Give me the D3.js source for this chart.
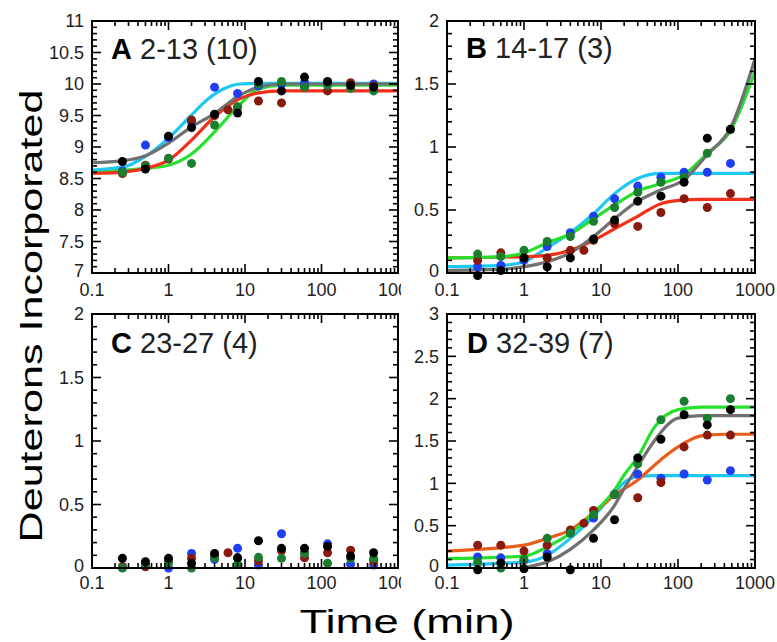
<!DOCTYPE html>
<html>
<head>
<meta charset="utf-8">
<script src="https://cdn.jsdelivr.net/npm/d3@7"></script>
<style>
  body { margin: 0; background: #fff; }
  text { font-family: "Liberation Sans", Arial, sans-serif; }
</style>
</head>
<body>
<script>
const width = 777;
const height = 642;

// sampling times (min)
const times = [0.25, 0.5, 1, 2, 4, 8, 15, 30, 60, 120, 240, 480];
const timesRed = [0.25, 0.5, 1, 2, 4, 6, 8, 15, 30, 60, 120, 240, 480];
const xTickLabels = [0.1, 1, 10, 100, 1000];

// panel A 2-13 (10)
const aBlack = [8.77, 8.65, 9.17, 9.31, 9.52, 9.54, 10.04, 9.89, 10.11, 10.04, 9.98, 9.95];
const aBlue = [8.62, 9.03, 9.15, 9.40, 9.95, 9.85, 9.97, 10.0, 10.02, 10.02, 10.0, 10.0];
const aRed = [8.58, 8.71, 8.81, 9.43, 9.50, 9.59, 9.63, 9.73, 9.70, 9.95, 9.89, 10.02, 9.97];
const aGreen = [8.60, 8.70, 8.82, 8.74, 9.35, 9.64, 10.0, 10.04, 9.95, 9.98, 9.93, 9.89];
const aCyanFitT = [0.1, 0.27, 0.5, 1, 1.9, 3.2, 5.2, 8.6, 14, 1000];
const aCyanFit = [8.635, 8.69, 8.85, 9.14, 9.48, 9.75, 9.92, 10.0, 10.01, 10.01];
const aFitT = [0.1, 0.25, 0.5, 1, 2, 4, 8, 15, 30, 1000];
const aGrayFit = [8.75, 8.78, 8.86, 9.06, 9.32, 9.53, 9.80, 9.95, 10.0, 10.0];
const aRedFit = [8.58, 8.60, 8.66, 8.79, 9.11, 9.48, 9.75, 9.86, 9.89, 9.89];
const aGreenFit = [8.61, 8.63, 8.66, 8.71, 8.89, 9.24, 9.64, 9.92, 9.98, 9.98];

// panel B 14-17 (3)
const bBlack = [-0.02, 0.02, 0.12, 0.05, 0.12, 0.27, 0.42, 0.57, 0.61, 0.72, 1.07, 1.14];
const bBlue = [0.05, 0.06, 0.10, 0.21, 0.32, 0.45, 0.59, 0.69, 0.76, 0.80, 0.80, 0.87];
const bRed = [0.10, 0.16, 0.12, 0.12, 0.18, 0.18, 0.26, 0.39, 0.37, 0.48, 0.59, 0.52, 0.63];
const bGreen = [0.15, 0.13, 0.18, 0.25, 0.29, 0.41, 0.52, 0.64, 0.72, 0.76, 0.95, 1.14];
const bCyanFitT = [0.1, 0.5, 1, 2, 4, 8, 15, 30, 60, 1000];
const bCyanFit = [0.05, 0.06, 0.09, 0.20, 0.32, 0.47, 0.63, 0.75, 0.79, 0.79];
const bFitT = [0.1, 0.5, 1, 2, 4, 8, 15, 30, 60, 120, 240, 480, 1000];
const bGreenFit = [0.12, 0.13, 0.16, 0.24, 0.31, 0.43, 0.54, 0.65, 0.71, 0.78, 0.95, 1.13, 1.60];
const bGrayFit = [0.02, 0.03, 0.05, 0.09, 0.16, 0.29, 0.43, 0.57, 0.66, 0.74, 0.94, 1.15, 1.70];
const bRedFitT = [0.1, 1, 2, 4, 8, 15, 30, 60, 120, 200, 1000];
const bRedFit = [0.12, 0.13, 0.14, 0.18, 0.26, 0.35, 0.45, 0.55, 0.58, 0.585, 0.585];

// panel C 23-27 (4)
const cBlack = [0.076, 0.05, 0.076, 0.037, 0.115, 0.08, 0.215, 0.155, 0.155, 0.17, 0.094, 0.12];
const cBlue = [0.01, 0.02, 0.0, 0.115, 0.068, 0.155, 0.024, 0.27, 0.12, 0.19, 0.03, 0.024];
const cRed = [0.01, 0.01, 0.05, 0.076, 0.094, 0.12, 0.08, 0.055, 0.136, 0.08, 0.12, 0.14, 0.055];
const cGreen = [0.0, 0.03, 0.04, 0.0, 0.08, 0.03, 0.084, 0.076, 0.115, 0.037, 0.076, 0.076];

// panel D 32-39 (7)
const dBlack = [-0.02, 0.06, -0.01, 0.13, -0.02, 0.35, 0.57, 1.30, 1.52, 1.81, 1.69, 1.87];
const dBlue = [0.13, 0.12, 0.09, 0.17, 0.42, 0.59, 0.87, 1.11, 1.06, 1.11, 1.04, 1.15];
const dRed = [0.27, 0.27, 0.20, 0.27, 0.45, 0.53, 0.68, 0.87, 0.83, 1.01, 1.43, 1.57, 1.57];
const dGreen = [0.07, 0.0, 0.10, 0.35, 0.41, 0.63, 0.87, 1.23, 1.75, 1.97, 1.77, 2.00];
const dFitT = [0.1, 1, 2, 4, 8, 15, 20, 30, 50, 100, 200, 1000];
const dGreenFit = [0.11, 0.14, 0.25, 0.41, 0.65, 0.92, 1.10, 1.31, 1.67, 1.87, 1.90, 1.90];
const dCyanFit = [0.035, 0.07, 0.15, 0.35, 0.61, 0.89, 1.01, 1.08, 1.09, 1.09, 1.09, 1.09];
const dGrayFitT = [0.1, 0.5, 1, 2, 4, 8, 15, 20, 30, 50, 100, 200, 1000];
const dGrayFit = [-0.3, -0.1, 0.0, 0.07, 0.22, 0.45, 0.74, 0.94, 1.20, 1.51, 1.77, 1.80, 1.80];
const dRedFitT = [0.1, 1, 2, 4, 8, 15, 30, 60, 100, 200, 400, 1000];
const dRedFit = [0.20, 0.27, 0.35, 0.45, 0.65, 0.86, 1.04, 1.28, 1.43, 1.56, 1.58, 1.58];

const dot = { black: "#000000", blue: "#1f3ff0", red: "#8a1a0e", green: "#1b7d2e" };
const line = { gray: "#707070", cyan: "#1cc8f2", red: "#f2301a", orange: "#ea5c1c", green: "#26e02c" };

const panels = [
  {
    letter: "A", label: " 2-13 (10)", x0: 92, x1: 398, y0: 21, y1: 273, yMin: 7, yMax: 11,
    tx: 111, ty: 59, xLabelY: 296, clipRight: 401,
    fits: [
      [aFitT, aGreenFit, line.green], [aFitT, aRedFit, line.red],
      [aCyanFitT, aCyanFit, line.cyan], [aFitT, aGrayFit, line.gray]
    ],
    dots: [
      [times, aBlue, dot.blue], [timesRed, aRed, dot.red],
      [times, aGreen, dot.green], [times, aBlack, dot.black]
    ]
  },
  {
    letter: "B", label: " 14-17 (3)", x0: 447, x1: 755, y0: 21, y1: 273, yMin: 0, yMax: 2,
    tx: 466, ty: 58, xLabelY: 296, clipRight: null,
    fits: [
      [bCyanFitT, bCyanFit, line.cyan], [bRedFitT, bRedFit, line.red],
      [bFitT, bGreenFit, line.green], [bFitT, bGrayFit, line.gray]
    ],
    dots: [
      [times, bBlue, dot.blue], [timesRed, bRed, dot.red],
      [times, bGreen, dot.green], [times, bBlack, dot.black]
    ]
  },
  {
    letter: "C", label: " 23-27 (4)", x0: 92, x1: 398, y0: 314, y1: 568, yMin: 0, yMax: 2,
    tx: 111, ty: 353, xLabelY: 589, clipRight: 401,
    fits: [],
    dots: [
      [times, cBlue, dot.blue], [timesRed, cRed, dot.red],
      [times, cGreen, dot.green], [times, cBlack, dot.black]
    ]
  },
  {
    letter: "D", label: " 32-39 (7)", x0: 447, x1: 755, y0: 314, y1: 568, yMin: 0, yMax: 3,
    tx: 467, ty: 353, xLabelY: 589, clipRight: null,
    fits: [
      [dFitT, dCyanFit, line.cyan], [dRedFitT, dRedFit, line.orange],
      [dFitT, dGreenFit, line.green], [dGrayFitT, dGrayFit, line.gray]
    ],
    dots: [
      [times, dBlue, dot.blue], [timesRed, dRed, dot.red],
      [times, dGreen, dot.green], [times, dBlack, dot.black]
    ]
  }
];

const svg = d3.select("body").append("svg")
  .attr("width", width)
  .attr("height", height);

const defs = svg.append("defs");

const isDecade = (d) => Math.abs(Math.log10(d) - Math.round(Math.log10(d))) < 1e-6;
const isHalf = (d) => Math.abs(d * 2 - Math.round(d * 2)) < 1e-6;

panels.forEach((p, i) => {
  const x = d3.scaleLog().domain([0.1, 1000]).range([p.x0, p.x1]);
  const y = d3.scaleLinear().domain([p.yMin, p.yMax]).range([p.y1, p.y0]);
  const g = svg.append("g");

  defs.append("clipPath").attr("id", `plot${i}`)
    .append("rect")
    .attr("x", p.x0).attr("y", p.y0)
    .attr("width", p.x1 - p.x0).attr("height", p.y1 - p.y0);

  // fitted curves
  const lineGen = d3.line()
    .x((d) => x(d[0]))
    .y((d) => y(d[1]))
    .curve(d3.curveMonotoneX);

  g.append("g")
    .attr("clip-path", `url(#plot${i})`)
    .selectAll("path")
    .data(p.fits)
    .join("path")
    .attr("d", (f) => lineGen(f[0].map((t, k) => [t, f[1][k]])))
    .attr("fill", "none")
    .attr("stroke", (f) => f[2])
    .attr("stroke-width", 3.2)
    .attr("stroke-linecap", "round");

  // data points
  p.dots.forEach((s) => {
    g.append("g")
      .selectAll("circle")
      .data(s[0].map((t, k) => [t, s[1][k]]))
      .join("circle")
      .attr("cx", (d) => x(d[0]))
      .attr("cy", (d) => y(d[1]))
      .attr("r", 4.5)
      .attr("fill", s[2]);
  });

  // ticks on all four sides, pointing in
  const xt = x.ticks();
  const yt = y.ticks(Math.round((p.yMax - p.yMin) * 10));
  const ticks = g.append("g").attr("stroke", "#000").attr("stroke-width", 1.6);
  ticks.selectAll(".xb").data(xt).join("line")
    .attr("x1", (d) => x(d)).attr("x2", (d) => x(d))
    .attr("y1", p.y1).attr("y2", (d) => p.y1 - (isDecade(d) ? 9 : 5));
  ticks.selectAll(".xt").data(xt).join("line")
    .attr("x1", (d) => x(d)).attr("x2", (d) => x(d))
    .attr("y1", p.y0).attr("y2", (d) => p.y0 + (isDecade(d) ? 9 : 5));
  ticks.selectAll(".yl").data(yt).join("line")
    .attr("y1", (d) => y(d)).attr("y2", (d) => y(d))
    .attr("x1", p.x0).attr("x2", (d) => p.x0 + (isHalf(d) ? 9 : 5));
  ticks.selectAll(".yr").data(yt).join("line")
    .attr("y1", (d) => y(d)).attr("y2", (d) => y(d))
    .attr("x1", p.x1).attr("x2", (d) => p.x1 - (isHalf(d) ? 9 : 5));

  g.append("rect")
    .attr("x", p.x0).attr("y", p.y0)
    .attr("width", p.x1 - p.x0).attr("height", p.y1 - p.y0)
    .attr("fill", "none")
    .attr("stroke", "#000")
    .attr("stroke-width", 2);

  // tick labels
  g.append("g")
    .selectAll("text")
    .data(yt.filter(isHalf))
    .join("text")
    .attr("x", p.x0 - 8)
    .attr("y", (d) => y(d))
    .attr("dy", (d) => (d === p.yMin ? "0.2em" : "0.36em"))
    .attr("text-anchor", "end")
    .attr("font-size", 18)
    .attr("fill", "#222")
    .text((d) => String(+d.toFixed(1)));

  const xl = g.append("g");
  if (p.clipRight) {
    defs.append("clipPath").attr("id", `lab${i}`)
      .append("rect")
      .attr("x", 0).attr("y", 0)
      .attr("width", p.clipRight).attr("height", height);
    xl.attr("clip-path", `url(#lab${i})`);
  }
  xl.selectAll("text")
    .data(xTickLabels)
    .join("text")
    .attr("x", (d) => x(d))
    .attr("y", p.xLabelY)
    .attr("text-anchor", "middle")
    .attr("font-size", 18)
    .attr("fill", "#222")
    .text((d) => String(d));

  // panel title
  const title = g.append("text")
    .attr("x", p.tx)
    .attr("y", p.ty)
    .attr("font-size", 29)
    .attr("fill", "#222");
  title.append("tspan").attr("font-weight", "bold").attr("fill", "#000").text(p.letter);
  title.append("tspan").text(p.label);
});

// axis titles
svg.append("text")
  .attr("transform", "translate(42,316) rotate(-90)")
  .attr("text-anchor", "middle")
  .attr("font-size", 31)
  .attr("textLength", 453)
  .attr("lengthAdjust", "spacingAndGlyphs")
  .attr("fill", "#000")
  .text("Deuterons Incorporated");

svg.append("text")
  .attr("x", 407)
  .attr("y", 633)
  .attr("text-anchor", "middle")
  .attr("font-size", 34)
  .attr("textLength", 215)
  .attr("lengthAdjust", "spacingAndGlyphs")
  .attr("fill", "#000")
  .text("Time (min)");
</script>
</body>
</html>
